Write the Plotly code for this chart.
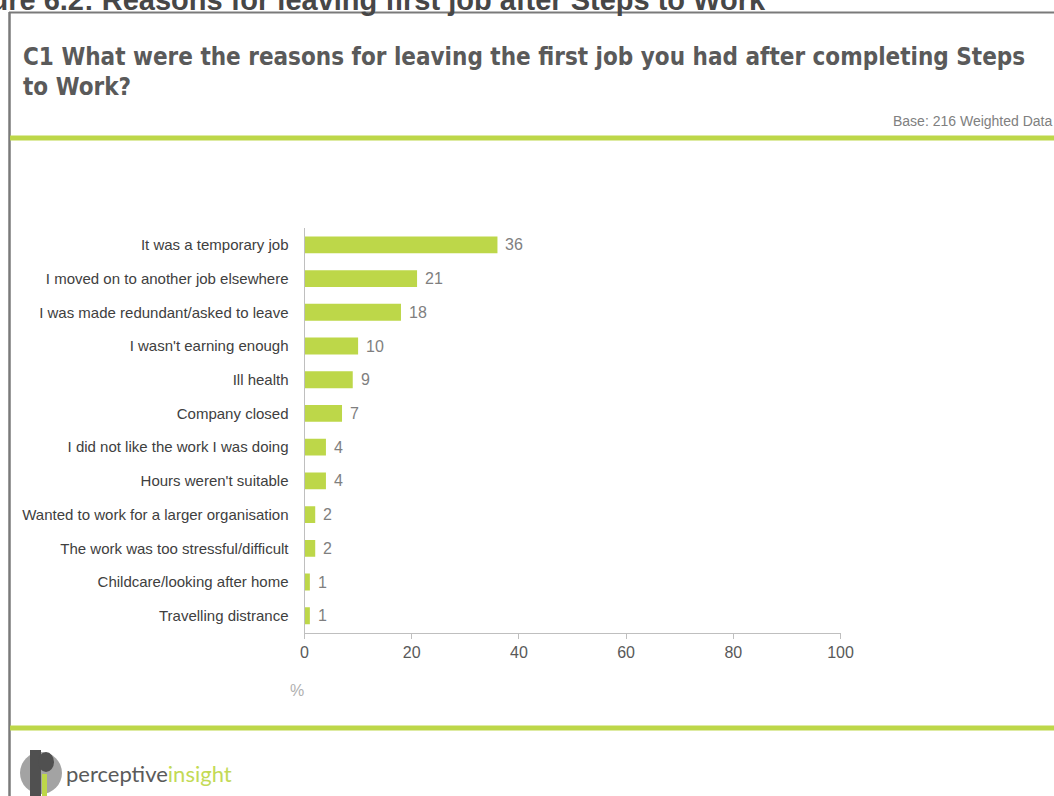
import plotly.graph_objects as go

# Survey question C1: reasons for leaving the first job (weighted %, base 216)
reasons = [
    "It was a temporary job",
    "I moved on to another job elsewhere",
    "I was made redundant/asked to leave",
    "I wasn't earning enough",
    "Ill health",
    "Company closed",
    "I did not like the work I was doing",
    "Hours weren't suitable",
    "Wanted to work for a larger organisation",
    "The work was too stressful/difficult",
    "Childcare/looking after home",
    "Travelling distrance",
]
percent = [36, 21, 18, 10, 9, 7, 4, 4, 2, 2, 1, 1]
x_ticks = [0, 20, 40, 60, 80, 100]

W, H = 1054, 796
GREEN = "#bdd749"
ARIAL = "Liberation Sans, Arial"


def px(x):
    return x / W


def py(y):
    return 1 - y / H


fig = go.Figure()
fig.add_trace(go.Bar(
    x=percent, y=reasons, orientation="h",
    marker=dict(color=GREEN, line=dict(width=0)),
    width=0.5, hoverinfo="x+y",
))

# value labels just past each bar end
for r, v in zip(reasons, percent):
    fig.add_annotation(x=v, y=r, xref="x", yref="y", text=str(v), showarrow=False,
                       xanchor="left", xshift=6,
                       font=dict(family=ARIAL, size=16, color="#7f7f7f"))

shapes = [
    # outer frame (top and left edges)
    dict(type="line", xref="paper", yref="paper", x0=px(9), x1=px(1054), y0=py(12.5), y1=py(12.5),
         line=dict(color="#7a7a7a", width=2)),
    dict(type="line", xref="paper", yref="paper", x0=px(9.5), x1=px(9.5), y0=py(12), y1=py(796),
         line=dict(color="#7a7a7a", width=2.5)),
    # green rules
    dict(type="line", xref="paper", yref="paper", x0=px(10), x1=px(1054), y0=py(138), y1=py(138),
         line=dict(color=GREEN, width=5)),
    dict(type="line", xref="paper", yref="paper", x0=px(10), x1=px(1054), y0=py(728), y1=py(728),
         line=dict(color=GREEN, width=5)),
    # logo mark
    dict(type="circle", xref="paper", yref="paper", x0=px(20), x1=px(62), y0=py(752), y1=py(794),
         fillcolor="#a3a3a3", line=dict(width=0)),
    dict(type="rect", xref="paper", yref="paper", x0=px(30), x1=px(41), y0=py(750), y1=py(796),
         fillcolor="#505050", line=dict(width=0)),
    dict(type="circle", xref="paper", yref="paper", x0=px(38), x1=px(54), y0=py(752), y1=py(772),
         fillcolor="#505050", line=dict(width=0)),
    dict(type="rect", xref="paper", yref="paper", x0=px(42), x1=px(47), y0=py(774), y1=py(796),
         fillcolor=GREEN, line=dict(width=0)),
]

ann = [
    dict(text="<b>Figure 6.2: Reasons for leaving first job after Steps to Work</b>",
         x=px(768), y=py(18), xanchor="right", yanchor="bottom",
         font=dict(family=ARIAL, size=29, color="#474747")),
    dict(text="<b>C1 What were the reasons for leaving the first job you had after completing Steps</b>",
         x=px(21), y=py(57), xanchor="left", yanchor="middle",
         font=dict(family="DejaVu Sans Condensed, DejaVu Sans", size=24, color="#5a5a5a")),
    dict(text="<b>to Work?</b>",
         x=px(21), y=py(87), xanchor="left", yanchor="middle",
         font=dict(family="DejaVu Sans Condensed, DejaVu Sans", size=24, color="#5a5a5a")),
    dict(text="Base: 216 Weighted Data", x=px(1055), y=py(121), xanchor="right", yanchor="middle",
         font=dict(family=ARIAL, size=14, color="#808080")),
    dict(text="%", x=px(297), y=py(690), xanchor="center", yanchor="middle",
         font=dict(family=ARIAL, size=16, color="#b0b0b0")),
    dict(text="<span style='color:#5a5a5a'>perceptive</span><span style='color:#c3da55'>insight</span>",
         x=px(64), y=py(773), xanchor="left", yanchor="middle",
         font=dict(family="Lato, Open Sans", size=22, color="#5a5a5a")),
]
for a in ann:
    a.update(xref="paper", yref="paper", showarrow=False)

fig.update_layout(
    template="none",
    width=W, height=H, autosize=False,
    margin=dict(l=0, r=0, t=0, b=0, pad=0, autoexpand=False),
    paper_bgcolor="white", plot_bgcolor="white",
    showlegend=False,
    shapes=shapes,
    annotations=fig.layout.annotations + tuple(go.layout.Annotation(**a) for a in ann),
    xaxis=dict(domain=[px(304.5), px(840.5)], range=[0, 100], tickvals=x_ticks,
               automargin=False,
               showgrid=False, zeroline=False, showline=True, linecolor="#bfbfbf", linewidth=1,
               ticks="outside", ticklen=5, tickcolor="#bfbfbf",
               tickfont=dict(family=ARIAL, size=16, color="#595959")),
    yaxis=dict(domain=[py(632.6), py(228)], categoryorder="array", categoryarray=reasons,
               autorange="reversed", automargin=False, showgrid=False, zeroline=False,
               showline=True, linecolor="#bfbfbf", linewidth=1, ticks="",
               ticklabelstandoff=12,
               tickfont=dict(family=ARIAL, size=15, color="#404040")),
    bargap=0.5,
)

fig.write_html(
    "out.html",
    config={"displayModeBar": False},
    post_script="document.body.style.margin='0';document.body.style.overflow='hidden';",
)
